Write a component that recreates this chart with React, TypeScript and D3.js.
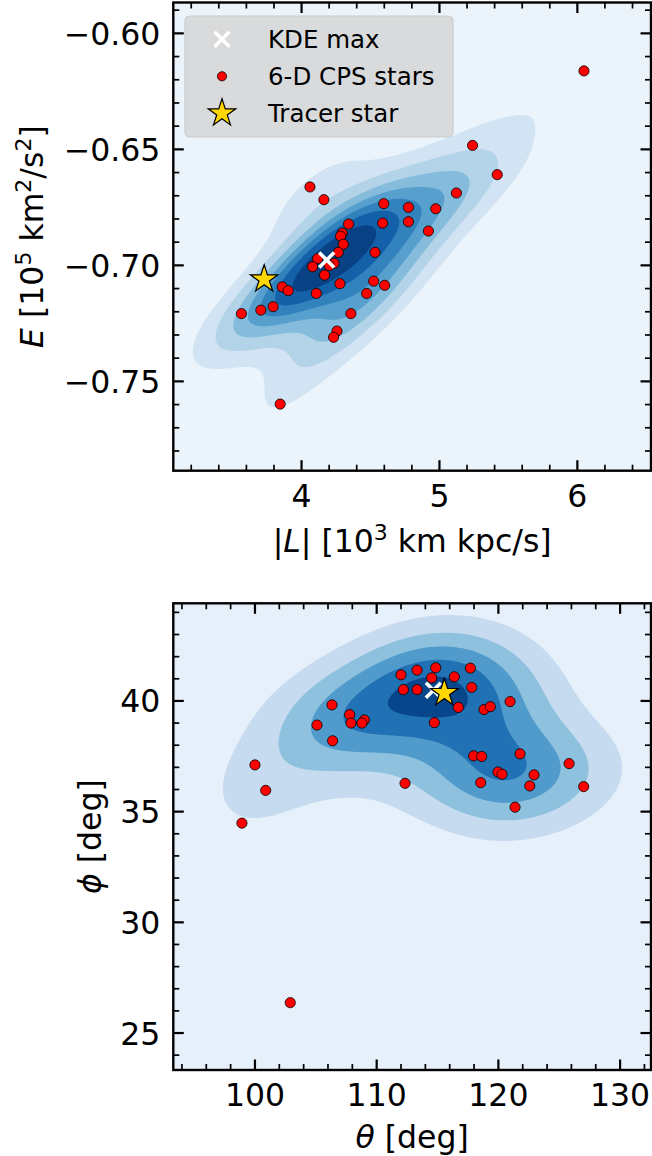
import React from 'react';
import * as d3 from 'd3';

// ---------- data ----------
const topL = [6.048, 5.240, 5.419, 4.061, 4.162, 5.123, 4.596, 4.775, 4.973, 4.775, 4.588, 4.341, 4.920, 4.295, 4.283, 4.303, 4.266, 4.533, 4.116, 4.235, 4.201, 4.080, 4.167, 4.278, 4.523, 4.603, 3.860, 3.903, 4.107, 4.472, 3.794, 3.705, 3.564, 4.358, 4.257, 4.232, 3.845];
const topE = [-0.6162, -0.6483, -0.6609, -0.6662, -0.6717, -0.6688, -0.6734, -0.6750, -0.6756, -0.6812, -0.6818, -0.6822, -0.6852, -0.6861, -0.6874, -0.6909, -0.6944, -0.6944, -0.6971, -0.6991, -0.7001, -0.7006, -0.7042, -0.7079, -0.7068, -0.7086, -0.7093, -0.7109, -0.7121, -0.7121, -0.7178, -0.7193, -0.7208, -0.7208, -0.7283, -0.7310, -0.7598];
const tracerTop = [3.729, -0.7060];
const kdeMaxTop = [4.182, -0.6977];

const botTheta = [100.0, 100.88, 98.93, 102.90, 106.33, 105.10, 106.38, 107.78, 107.89, 108.99, 108.79, 112.33, 112.0, 113.32, 114.85, 114.52, 116.38, 117.70, 112.19, 113.32, 117.81, 116.71, 114.74, 118.82, 119.34, 120.96, 117.97, 118.63, 121.78, 119.97, 120.30, 118.55, 122.93, 122.58, 121.37, 125.81, 127.01];
const botPhi = [37.11, 35.96, 34.48, 26.37, 39.82, 38.91, 38.20, 39.38, 39.00, 39.14, 39.00, 36.28, 41.18, 41.39, 41.50, 41.04, 41.09, 41.48, 40.51, 40.51, 40.61, 39.71, 39.02, 39.61, 39.74, 39.97, 37.52, 37.49, 37.61, 36.79, 36.69, 36.31, 36.66, 36.16, 35.20, 37.17, 36.13];
const tracerBot = [115.56, 40.36];
const kdeMaxBot = [114.66, 40.48];

const topXTicks = [4, 5, 6];
const topXTickLabels = ['4', '5', '6'];
const topYTicks = [-0.75, -0.70, -0.65, -0.60];
const topYTickLabels = ['\u22120.75', '\u22120.70', '\u22120.65', '\u22120.60'];
const botXTicks = [100, 110, 120, 130];
const botXTickLabels = ['100', '110', '120', '130'];
const botYTicks = [25, 30, 35, 40];
const botYTickLabels = ['25', '30', '35', '40'];
const legendLabels = ['KDE max', '6-D CPS stars', 'Tracer star'];

// ---------- style ----------
const FONT = 'DejaVu Sans, Verdana, sans-serif';
const BLUES = ['#f7fbff', '#deebf7', '#c6dbef', '#9ecae1', '#6baed6', '#4292c6', '#2171b5', '#08519c', '#08306b'];
const blues = d3.scaleLinear<string>().domain(d3.range(9).map((i) => i / 8)).range(BLUES).interpolate(d3.interpolateRgb);

function makeKde(xs: number[], ys: number[], bwAdjust: number) {
  const n = xs.length;
  const mx = d3.mean(xs) as number;
  const my = d3.mean(ys) as number;
  let sxx = 0, syy = 0, sxy = 0;
  for (let i = 0; i < n; i++) {
    const dx = xs[i] - mx, dy = ys[i] - my;
    sxx += dx * dx; syy += dy * dy; sxy += dx * dy;
  }
  sxx /= n - 1; syy /= n - 1; sxy /= n - 1;
  const f = Math.pow(n, -1 / 6) * bwAdjust;
  const a = sxx * f * f, b = sxy * f * f, c = syy * f * f;
  const det = a * c - b * b;
  const ia = c / det, ib = -b / det, ic = a / det;
  return (x: number, y: number) => {
    let s = 0;
    for (let i = 0; i < n; i++) {
      const dx = x - xs[i], dy = y - ys[i];
      s += Math.exp(-0.5 * (ia * dx * dx + 2 * ib * dx * dy + ic * dy * dy));
    }
    return s;
  };
}

// iso-proportion levels (density value above which a given share of mass lies)
function isoLevels(values: Float64Array, nBands: number) {
  const sorted = Array.from(values).sort((a, b) => b - a);
  const total = d3.sum(sorted);
  const cum: number[] = [];
  let acc = 0;
  for (const v of sorted) { acc += v; cum.push(acc / total); }
  const out: number[] = [];
  for (let k = 1; k < nBands; k++) {
    const idx = d3.bisectLeft(cum, 1 - k / nBands);
    out.push(sorted[Math.min(idx, sorted.length - 1)]);
  }
  return out;
}

function starPath(R: number) {
  const r = R * 0.381966;
  const pts: string[] = [];
  for (let k = 0; k < 10; k++) {
    const ang = -Math.PI / 2 + (k * Math.PI) / 5;
    const rr = k % 2 === 0 ? R : r;
    pts.push(`${(rr * Math.cos(ang)).toFixed(2)},${(rr * Math.sin(ang)).toFixed(2)}`);
  }
  return 'M' + pts.join('L') + 'Z';
}

type PanelProps = {
  id: string;
  left: number; right: number; top: number; bottom: number;
  xDomain: [number, number]; yDomain: [number, number];
  xs: number[]; ys: number[];
  tracer: number[]; kdeMax: number[];
  nBands: number; bwAdjust: number; levelMode: 'iso' | 'uniform'; topFrac?: number;
  xTicks: number[]; xTickLabels: string[]; xMinorStep: number;
  yTicks: number[]; yTickLabels: string[]; yMinorStep: number;
  xLabel: React.ReactNode; yLabel: React.ReactNode; yLabelX: number; xLabelDy: number;
  legend?: boolean;
};

function XMark({ cx, cy }: { cx: number; cy: number }) {
  return (
    <g transform={`translate(${cx},${cy})`} stroke="#fff" strokeWidth={3.6}>
      <line x1={-7.5} y1={-7.5} x2={7.5} y2={7.5} />
      <line x1={-7.5} y1={7.5} x2={7.5} y2={-7.5} />
    </g>
  );
}

function Panel(p: PanelProps) {
  const x = d3.scaleLinear().domain(p.xDomain).range([p.left, p.right]);
  const y = d3.scaleLinear().domain(p.yDomain).range([p.bottom, p.top]);
  const step = 2;
  const w = p.right - p.left, h = p.bottom - p.top;
  const nx = Math.ceil(w / step), ny = Math.ceil(h / step);
  const kde = makeKde(p.xs, p.ys, p.bwAdjust);
  const values = new Float64Array(nx * ny);
  let zmax = 0;
  for (let j = 0; j < ny; j++) {
    const yy = y.invert(p.top + (j + 0.5) * step);
    for (let i = 0; i < nx; i++) {
      const v = kde(x.invert(p.left + (i + 0.5) * step), yy);
      values[j * nx + i] = v;
      if (v > zmax) zmax = v;
    }
  }
  const thresholds = p.levelMode === 'iso'
    ? isoLevels(values, p.nBands)
    : d3.range(1, p.nBands).map((k) => (k * zmax) / (p.topFrac as number));
  const contours = d3.contours().size([nx, ny]).thresholds(thresholds)(values as any);
  const path = d3.geoPath(d3.geoIdentity().scale(step).translate([p.left, p.top]) as any);
  const bandColor = (k: number) => blues((k + 0.5) / p.nBands);

  const xMinor = d3.range(Math.ceil(p.xDomain[0] / p.xMinorStep) * p.xMinorStep, p.xDomain[1], p.xMinorStep)
    .filter((v) => !p.xTicks.some((t) => Math.abs(t - v) < 1e-6));
  const yMinor = d3.range(Math.ceil(p.yDomain[0] / p.yMinorStep - 1e-9) * p.yMinorStep, p.yDomain[1], p.yMinorStep)
    .filter((v) => !p.yTicks.some((t) => Math.abs(t - v) < 1e-6));
  const MAJ = 10.5, MIN = 6;
  const star = starPath(14.5);
  const cx = (p.left + p.right) / 2, cy = (p.top + p.bottom) / 2;

  return (
    <g>
      <defs>
        <clipPath id={`clip-${p.id}`}>
          <rect x={p.left} y={p.top} width={w} height={h} />
        </clipPath>
      </defs>
      <g clipPath={`url(#clip-${p.id})`}>
        <rect x={p.left} y={p.top} width={w} height={h} fill={bandColor(0)} />
        {contours.map((c, k) => (
          <path key={k} d={path(c as any) || ''} fill={bandColor(k + 1)} stroke="none" />
        ))}
        {p.xs.map((v, i) => (
          <circle key={i} cx={x(v)} cy={y(p.ys[i])} r={5.1} fill="#ff0000" stroke="#000" strokeWidth={0.8} />
        ))}
        <XMark cx={x(p.kdeMax[0])} cy={y(p.kdeMax[1])} />
        <path d={star} transform={`translate(${x(p.tracer[0])},${y(p.tracer[1])})`} fill="#ffd700" stroke="#000" strokeWidth={1.2} />
      </g>
      <g stroke="#000">
        {p.xTicks.map((t, i) => (
          <g key={'xt' + i} strokeWidth={2.2}>
            <line x1={x(t)} x2={x(t)} y1={p.bottom} y2={p.bottom - MAJ} />
            <line x1={x(t)} x2={x(t)} y1={p.top} y2={p.top + MAJ} />
          </g>
        ))}
        {xMinor.map((t, i) => (
          <g key={'xm' + i} strokeWidth={1.7}>
            <line x1={x(t)} x2={x(t)} y1={p.bottom} y2={p.bottom - MIN} />
            <line x1={x(t)} x2={x(t)} y1={p.top} y2={p.top + MIN} />
          </g>
        ))}
        {p.yTicks.map((t, i) => (
          <g key={'yt' + i} strokeWidth={2.2}>
            <line y1={y(t)} y2={y(t)} x1={p.left} x2={p.left + MAJ} />
            <line y1={y(t)} y2={y(t)} x1={p.right} x2={p.right - MAJ} />
          </g>
        ))}
        {yMinor.map((t, i) => (
          <g key={'ym' + i} strokeWidth={1.7}>
            <line y1={y(t)} y2={y(t)} x1={p.left} x2={p.left + MIN} />
            <line y1={y(t)} y2={y(t)} x1={p.right} x2={p.right - MIN} />
          </g>
        ))}
      </g>
      <rect x={p.left} y={p.top} width={w} height={h} fill="none" stroke="#000" strokeWidth={2.4} />
      <g fontFamily={FONT} fontSize={31.5} fill="#000">
        {p.xTicks.map((t, i) => (
          <text key={'xl' + i} x={x(t)} y={p.bottom + 36} textAnchor="middle">{p.xTickLabels[i]}</text>
        ))}
        {p.yTicks.map((t, i) => (
          <text key={'yl' + i} x={p.left - 13} y={y(t) + 11.5} textAnchor="end">{p.yTickLabels[i]}</text>
        ))}
        <text x={cx} y={p.bottom + p.xLabelDy} textAnchor="middle">{p.xLabel}</text>
        <text transform={`translate(${p.yLabelX},${cy}) rotate(-90)`} textAnchor="middle">{p.yLabel}</text>
      </g>
      {p.legend && (
        <g>
          <rect x={185} y={16} width={268} height={121} rx={5} fill="#d3d3d3" fillOpacity={0.8} stroke="#cccccc" strokeWidth={1.2} />
          {legendLabels.map((lab, i) => {
            const ry = 39.3 + i * 37;
            return (
              <g key={i}>
                {i === 0 && <XMark cx={222} cy={ry} />}
                {i === 1 && <circle cx={222} cy={ry} r={4.6} fill="#ff0000" stroke="#000" strokeWidth={0.8} />}
                {i === 2 && <path d={star} transform={`translate(222,${ry})`} fill="#ffd700" stroke="#000" strokeWidth={1.2} />}
                <text x={268} y={ry + 9} fontFamily={FONT} fontSize={24.5} fill="#000">{lab}</text>
              </g>
            );
          })}
        </g>
      )}
    </g>
  );
}

export default function App() {
  const SUP = 22;
  return (
    <svg width={652} height={1156} style={{ position: 'absolute', left: 0, top: 0, background: '#fff' }}>
      <Panel
        id="top"
        left={173.3} right={651} top={2.5} bottom={470.7}
        xDomain={[3.07, 6.534]} yDomain={[-0.7885, -0.5867]}
        xs={topL} ys={topE} tracer={tracerTop} kdeMax={kdeMaxTop}
        nBands={8} bwAdjust={1.2} levelMode="iso"
        xTicks={topXTicks} xTickLabels={topXTickLabels} xMinorStep={0.2}
        yTicks={topYTicks} yTickLabels={topYTickLabels} yMinorStep={0.01}
        xLabel={<>
          <tspan>|</tspan><tspan fontStyle="italic">L</tspan><tspan>| [10</tspan>
          <tspan dy={-12} fontSize={SUP}>3</tspan>
          <tspan dy={12}> km kpc/s]</tspan>
        </>}
        yLabel={<>
          <tspan fontStyle="italic">E</tspan><tspan> [10</tspan>
          <tspan dy={-12} fontSize={SUP}>5</tspan>
          <tspan dy={12}> km</tspan>
          <tspan dy={-12} fontSize={SUP}>2</tspan>
          <tspan dy={12}>/s</tspan>
          <tspan dy={-12} fontSize={SUP}>2</tspan>
          <tspan dy={12}>]</tspan>
        </>}
        yLabelX={43}
        xLabelDy={81}
        legend
      />
      <Panel
        id="bot"
        left={173.3} right={651} top={603.3} bottom={1070}
        xDomain={[93.29, 132.54]} yDomain={[23.33, 44.41]}
        xs={botTheta} ys={botPhi} tracer={tracerBot} kdeMax={kdeMaxBot}
        nBands={6} bwAdjust={1.1} levelMode="uniform" topFrac={5.45}
        xTicks={botXTicks} xTickLabels={botXTickLabels} xMinorStep={2}
        yTicks={botYTicks} yTickLabels={botYTickLabels} yMinorStep={1}
        xLabel={<><tspan fontStyle="italic">{'\u03b8'}</tspan><tspan> [deg]</tspan></>}
        yLabel={<><tspan fontStyle="italic">{'\u03d5'}</tspan><tspan> [deg]</tspan></>}
        yLabelX={101}
        xLabelDy={78}
      />
    </svg>
  );
}
